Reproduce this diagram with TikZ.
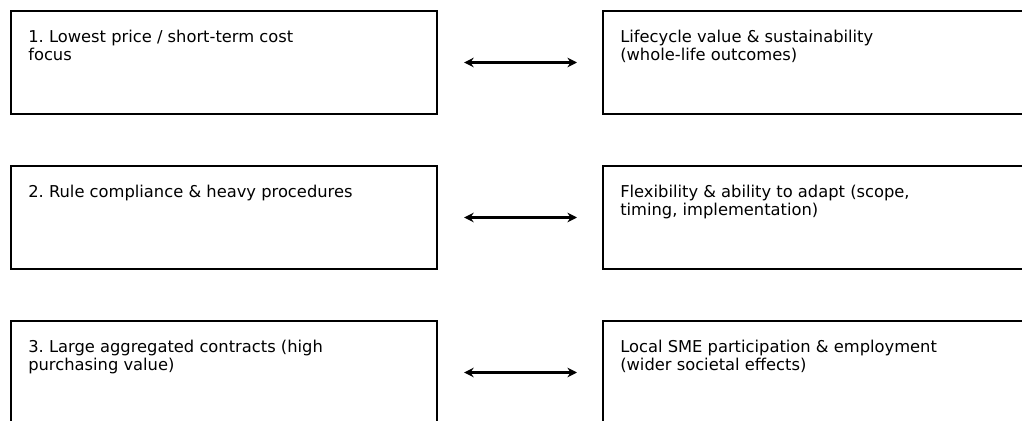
\documentclass[tikz,border=0pt]{standalone}
\usepackage{fontspec}
\setmainfont{DejaVu Sans}
\usepackage{tikz}
\usetikzlibrary{arrows.meta, positioning, calc}
\frenchspacing

\begin{document}
\begin{tikzpicture}[
  x=0.025cm, y=-0.025cm,
  box/.style={draw=black, line width=1.4pt, minimum width=10.65cm,
    minimum height=2.575cm, inner sep=0pt, anchor=north west},
  txt/.style={anchor=north west, inner sep=0pt, align=left,
    font=\fontsize{11.6}{12.8}\selectfont, execute at begin node=\strut},
  link/.style={{Stealth[length=0.24cm, width=0.24cm]}-{Stealth[length=0.24cm, width=0.24cm]},
    line width=1.8pt},
]
  \clip (0,0) rectangle (1022,421);

  % left column
  \node[box] (left1) at (10,10)  {};
  \node[box] (left2) at (10,165) {};
  \node[box] (left3) at (10,320) {};
  % right column
  \node[box] (right1) at (602,10)  {};
  \node[box] (right2) at (602,165) {};
  \node[box] (right3) at (602,320) {};

  \node[txt] at ($(left1.north west)+(18,19.4)$) {1. Lowest price / short-term cost\\focus};
  \node[txt] at ($(left2.north west)+(18,19.4)$) {2. Rule compliance \& heavy procedures};
  \node[txt] at ($(left3.north west)+(18,19.4)$) {3. Large aggregated contracts (high\\purchasing value)};

  \node[txt] at ($(right1.north west)+(18,19.4)$) {Lifecycle value \& sustainability\\(whole-life outcomes)};
  \node[txt] at ($(right2.north west)+(18,19.4)$) {Flexibility \& ability to adapt (scope,\\timing, implementation)};
  \node[txt] at ($(right3.north west)+(18,19.4)$) {Local SME participation \& employment\\(wider societal effects)};

  \coordinate (a1) at ($(left1.east)+(26,0)$);
  \coordinate (b1) at ($(right1.west)+(-25,0)$);
  \coordinate (a2) at ($(left2.east)+(26,0)$);
  \coordinate (b2) at ($(right2.west)+(-25,0)$);
  \coordinate (a3) at ($(left3.east)+(26,0)$);
  \coordinate (b3) at ($(right3.west)+(-25,0)$);
  \draw[link] (a1) -- (b1);
  \draw[link] (a2) -- (b2);
  \draw[link] (a3) -- (b3);
\end{tikzpicture}
\end{document}
